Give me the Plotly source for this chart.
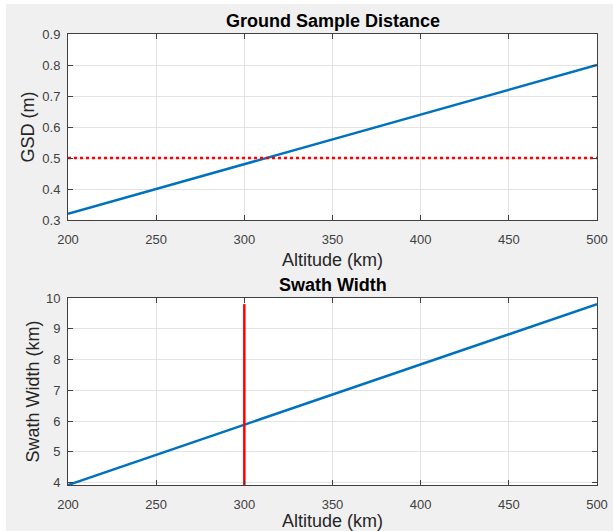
import plotly.graph_objects as go
from plotly.subplots import make_subplots

# ---- data ----
altitude_km = [200, 250, 300, 350, 400, 450, 500]
gsd_m = [0.32, 0.40, 0.48, 0.56, 0.64, 0.72, 0.80]
swath_km = [3.92, 4.90, 5.88, 6.86, 7.84, 8.82, 9.80]
gsd_requirement = 0.5
altitude_choice = 300
x_ticks = [200, 250, 300, 350, 400, 450, 500]
gsd_ticks = [0.3, 0.4, 0.5, 0.6, 0.7, 0.8, 0.9]
swath_ticks = [4, 5, 6, 7, 8, 9, 10]

W, H = 613, 531
L, R, T, B = 68, 16, 34, 46
ph = H - T - B
pw = W - L - R

def py(p):  # pixel y -> paper y
    return (H - B - p) / ph

def px(p):
    return (p - L) / pw

fig = make_subplots(rows=2, cols=1, vertical_spacing=0.05)

blue = "#0072BD"
fig.add_trace(go.Scatter(x=altitude_km, y=gsd_m, mode="lines",
                         line=dict(color=blue, width=2.5), showlegend=False), row=1, col=1)
fig.add_trace(go.Scatter(x=[altitude_km[0], altitude_km[-1]], y=[gsd_requirement, gsd_requirement],
                         mode="lines", line=dict(color="#FF0000", width=2.5, dash="dot"),
                         showlegend=False), row=1, col=1)
fig.add_trace(go.Scatter(x=altitude_km, y=swath_km, mode="lines",
                         line=dict(color=blue, width=2.5), showlegend=False), row=2, col=1)
fig.add_trace(go.Scatter(x=[altitude_choice, altitude_choice], y=[min(swath_km), max(swath_km)],
                         mode="lines", line=dict(color="#FF0000", width=2.5),
                         showlegend=False), row=2, col=1)

font_family = "Liberation Sans, Arial, sans-serif"
axis_common = dict(
    automargin=False,
    showline=True, linecolor="#404040", linewidth=1, mirror="ticks",
    ticks="inside", ticklen=5, tickcolor="#404040", tickwidth=1,
    showgrid=True, gridcolor="#e3e3e3", gridwidth=1, zeroline=False,
    tickfont=dict(family=font_family, size=13, color="#404040"),
    title_font=dict(family=font_family, size=18, color="#262626"),
)

fig.update_xaxes(**axis_common, range=[200, 500], tickvals=x_ticks,
                 ticklabelstandoff=7)
fig.update_yaxes(**axis_common, ticklabelstandoff=4)

fig.update_xaxes(title_text="Altitude (km)", title_standoff=7, row=1, col=1)
fig.update_xaxes(title_text="Altitude (km)", title_standoff=8, row=2, col=1)
fig.update_yaxes(title_text="GSD (m)", range=[0.3, 0.9], tickvals=gsd_ticks,
                 tickformat=".1f", title_standoff=3, row=1, col=1)
fig.update_yaxes(title_text="Swath Width (km)", range=[3.92, 10], tickvals=swath_ticks,
                 title_standoff=1, row=2, col=1)

fig.update_layout(
    xaxis=dict(domain=[0, 1]), xaxis2=dict(domain=[0, 1]),
    yaxis=dict(domain=[py(220), 1.0]),
    yaxis2=dict(domain=[0.0, py(298)]),
)

annotations = [
    dict(text="<b>Ground Sample Distance</b>", x=0.5, y=py(21.5), xref="paper", yref="paper",
         showarrow=False, xanchor="center", yanchor="middle",
         font=dict(family=font_family, size=18, color="#000000")),
    dict(text="<b>Swath Width</b>", x=0.5, y=py(285), xref="paper", yref="paper",
         showarrow=False, xanchor="center", yanchor="middle",
         font=dict(family=font_family, size=18, color="#000000")),
]

shapes = [
    dict(type="rect", xref="paper", yref="paper", x0=px(-2), x1=px(6), y0=py(H + 2), y1=py(-2),
         fillcolor="white", line=dict(width=0), layer="above"),
    dict(type="rect", xref="paper", yref="paper", x0=px(-2), x1=px(W + 2), y0=py(4), y1=py(-2),
         fillcolor="white", line=dict(width=0), layer="above"),
]

fig.update_layout(
    width=W, height=H,
    margin=dict(l=L, r=R, t=T, b=B),
    paper_bgcolor="#f0f0f0", plot_bgcolor="#ffffff",
    annotations=annotations, shapes=shapes,
    font=dict(family=font_family),
    showlegend=False,
)

fig.write_html(
    "out.html",
    config={"displayModeBar": False},
    post_script="document.body.style.margin='0';document.body.style.overflow='hidden';",
)
